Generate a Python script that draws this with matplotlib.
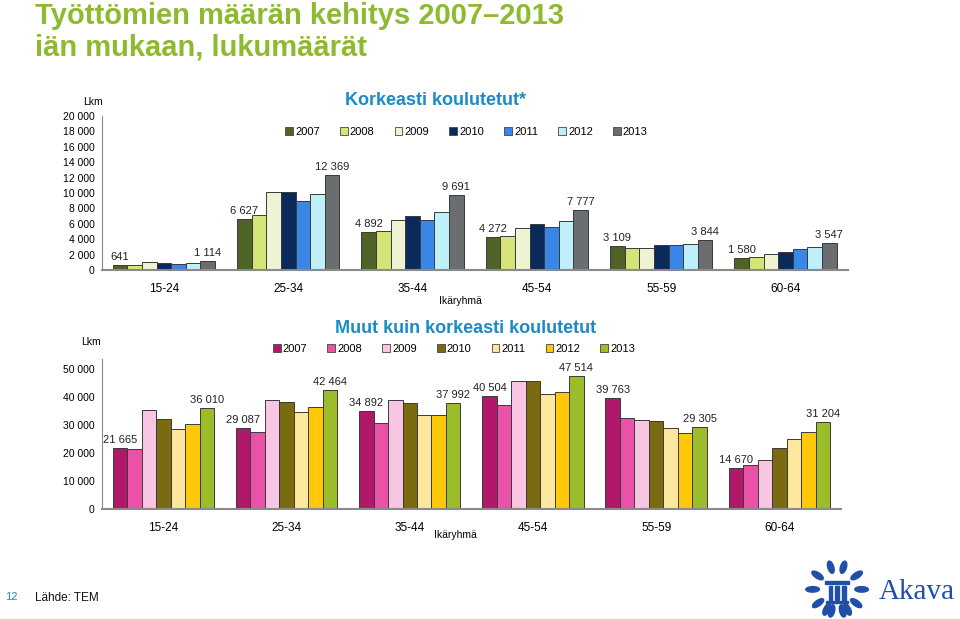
import numpy as np
import matplotlib
matplotlib.use("Agg")
import matplotlib.pyplot as plt
from matplotlib.patches import Rectangle, Ellipse

plt.rcParams['font.family'] = ['Liberation Sans', 'DejaVu Sans']

groups = ['15-24', '25-34', '35-44', '45-54', '55-59', '60-64']
years = ['2007', '2008', '2009', '2010', '2011', '2012', '2013']

# Korkeasti koulutetut, rows = years, cols = age groups
high_edu = [
    [641, 6627, 4892, 4272, 3109, 1580],
    [680, 7140, 5075, 4390, 2920, 1720],
    [1075, 10100, 6450, 5500, 2920, 2100],
    [860, 10100, 7050, 5930, 3225, 2365],
    [820, 8940, 6535, 5630, 3225, 2750],
    [950, 9890, 7525, 6320, 3400, 2970],
    [1114, 12369, 9691, 7777, 3844, 3547],
]
high_colors = ['#4f6228', '#d5e479', '#eef3d3', '#0b2a5c', '#3a86e6', '#bff0fa', '#6b6e70']

# Muut kuin korkeasti koulutetut
other_edu = [
    [21665, 29087, 34892, 40504, 39763, 14670],
    [21300, 27370, 30580, 37010, 32600, 15700],
    [35340, 38800, 38800, 45815, 31650, 17500],
    [32250, 38080, 37840, 45815, 31300, 21900],
    [28560, 34630, 33440, 40940, 28900, 24870],
    [30230, 36300, 33560, 41770, 27250, 27370],
    [36010, 42464, 37992, 47514, 29305, 31204],
]
other_colors = ['#b0186a', '#ea52a8', '#f8c6e2', '#7a6a10', '#fde79c', '#ffc90a', '#9bbd2a']


def fmt(v):
    return f'{v:,}'.replace(',', ' ')


def bar_panel(ax, data, colors, ymax, yticks):
    x = np.arange(len(groups))
    w = 0.1175
    for i, row in enumerate(data):
        pos = x + (i - 3) * w
        ax.bar(pos, row, width=w, color=colors[i], edgecolor='#3a3a3a', linewidth=0.7, zorder=2)
        if i in (0, len(data) - 1):
            for px, v in zip(pos, row):
                ax.text(px, v + ymax * 0.02, fmt(v), ha='center', va='bottom', fontsize=8, color='#222222')
    ax.set_xlim(-0.5, len(groups) - 0.5)
    ax.set_ylim(0, ymax)
    ax.set_yticks(yticks)
    ax.set_yticklabels([fmt(t) for t in yticks], fontsize=7.5)
    ax.set_xticks(x)
    ax.set_xticklabels(groups, fontsize=8.5)
    ax.tick_params(length=0, pad=5)
    ax.tick_params(axis='x', pad=9)
    for s in ('top', 'right'):
        ax.spines[s].set_visible(False)
    ax.spines['left'].set_color('#8a8a8a')
    ax.spines['bottom'].set_color('#8a8a8a')
    ax.spines['bottom'].set_linewidth(1.5)
    ax.set_facecolor('none')


fig = plt.figure(figsize=(9.6, 6.19), dpi=100)

fig.text(0.036, 0.996, 'Työttömien määrän kehitys 2007–2013\niän mukaan, lukumäärät',
         ha='left', va='top', fontsize=21, fontweight='bold', color='#8dba2e', linespacing=1.16)

ax1 = fig.add_axes([0.106, 0.5638, 0.777, 0.2488])
bar_panel(ax1, high_edu, high_colors, 20000, list(range(0, 20001, 2000)))
ax2 = fig.add_axes([0.106, 0.1777, 0.770, 0.2423])
bar_panel(ax2, other_edu, other_colors, 53600, list(range(0, 50001, 10000)))

blue = '#1b8ac8'
fig.text(0.454, 0.838, 'Korkeasti koulutetut*', ha='center', va='center', fontsize=13,
         fontweight='bold', color=blue)
fig.text(0.485, 0.470, 'Muut kuin korkeasti koulutetut', ha='center', va='center', fontsize=13,
         fontweight='bold', color=blue)

for colors, cx, cy in ((high_colors, 0.486, 0.787), (other_colors, 0.473, 0.436)):
    handles = [Rectangle((0, 0), 1, 1, facecolor=c, edgecolor='#444444', linewidth=0.6) for c in colors]
    fig.legend(handles, years, loc='center', bbox_to_anchor=(cx, cy), ncol=7, frameon=False,
               fontsize=8, handlelength=0.7, handleheight=0.7, handletextpad=0.2,
               columnspacing=1.8, borderpad=0)

fig.text(0.480, 0.513, 'Ikäryhmä', ha='center', va='center', fontsize=7.5)
fig.text(0.474, 0.136, 'Ikäryhmä', ha='center', va='center', fontsize=7.5)
fig.text(0.097, 0.835, 'Lkm', ha='center', va='center', fontsize=7.5)
fig.text(0.095, 0.447, 'Lkm', ha='center', va='center', fontsize=7.5)

fig.text(0.005, 0.036, '12', ha='left', va='center', fontsize=8, color=blue)
fig.text(0.036, 0.034, 'Lähde: TEM', ha='left', va='center', fontsize=8.5, color='#111111')

# Akava logo
logo_blue = '#1f4fa8'
fig.text(0.915, 0.043, 'Akava', ha='left', va='center', fontsize=21, color=logo_blue,
         family=['Liberation Serif', 'DejaVu Serif'])
lax = fig.add_axes([0.838, 0.0, 0.068, 0.097])
lax.set_xlim(-1.2, 1.2)
lax.set_ylim(-1.2, 1.2)
lax.axis('off')
for side in (-1, 1):
    for a in np.linspace(-115, 75, 6):
        t = np.deg2rad(a)
        lx, ly = side * 0.9 * np.cos(t), 0.9 * np.sin(t)
        ang = np.rad2deg(np.arctan2(ly, lx)) + 90
        lax.add_patch(Ellipse((lx, ly), 0.22, 0.5, angle=ang, color=logo_blue))
lax.add_patch(Rectangle((-0.45, 0.18), 0.9, 0.14, color=logo_blue))
for px in (-0.25, 0.0, 0.25):
    lax.add_patch(Rectangle((px - 0.06, -0.45), 0.12, 0.58, color=logo_blue))
lax.add_patch(Rectangle((-0.4, -0.58), 0.8, 0.1, color=logo_blue))

fig.savefig('out.png', dpi=100)
